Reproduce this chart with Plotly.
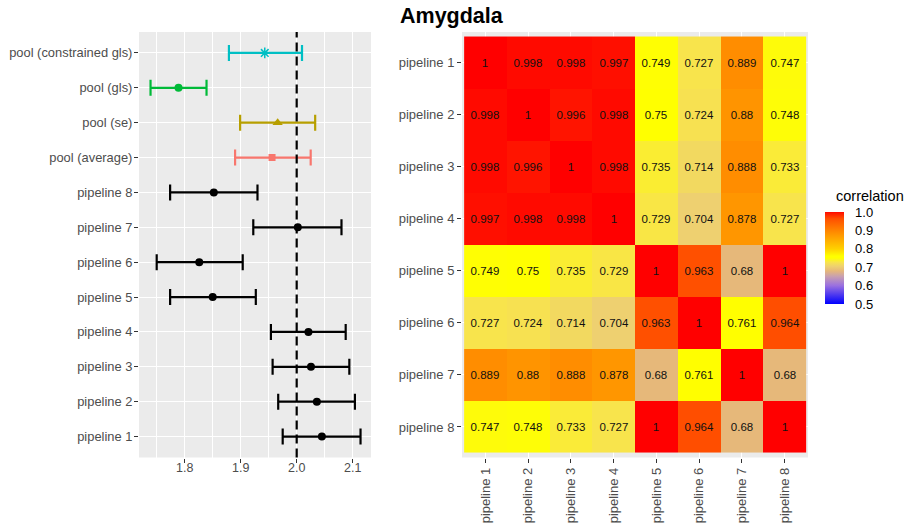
import plotly.graph_objects as go

# ---------------- data ----------------
pipelines = ["pipeline 1", "pipeline 2", "pipeline 3", "pipeline 4",
             "pipeline 5", "pipeline 6", "pipeline 7", "pipeline 8"]
pipe_est = [2.045, 2.036, 2.0255, 2.021, 1.850, 1.826, 2.002, 1.852]
pipe_lo = [1.975, 1.967, 1.957, 1.954, 1.774, 1.750, 1.9225, 1.774]
pipe_hi = [2.114, 2.104, 2.094, 2.0875, 1.927, 1.9036, 2.080, 1.930]

pool_names = ["pool (average)", "pool (se)", "pool (gls)", "pool (constrained gls)"]
pool_est = [1.956, 1.966, 1.789, 1.943]
pool_lo = [1.890, 1.899, 1.739, 1.879]
pool_hi = [2.025, 2.033, 1.839, 2.0095]

reference_value = 2.0
x_ticks = [1.8, 1.9, 2.0, 2.1]

corr = [
    [1, 0.998, 0.998, 0.997, 0.749, 0.727, 0.889, 0.747],
    [0.998, 1, 0.996, 0.998, 0.75, 0.724, 0.88, 0.748],
    [0.998, 0.996, 1, 0.998, 0.735, 0.714, 0.888, 0.733],
    [0.997, 0.998, 0.998, 1, 0.729, 0.704, 0.878, 0.727],
    [0.749, 0.75, 0.735, 0.729, 1, 0.963, 0.68, 1],
    [0.727, 0.724, 0.714, 0.704, 0.963, 1, 0.761, 0.964],
    [0.889, 0.88, 0.888, 0.878, 0.68, 0.761, 1, 0.68],
    [0.747, 0.748, 0.733, 0.727, 1, 0.964, 0.68, 1],
]
cbar_ticks = [0.5, 0.6, 0.7, 0.8, 0.9, 1.0]

# ---------------- styling ----------------
FONT = "Liberation Sans, Arial, Helvetica, sans-serif"
W, H = 907, 525
GREY_TXT = "#4D4D4D"
PANEL = "#EBEBEB"

def px_x(p):
    return p / W

def px_y(p):
    return 1 - p / H

pool_styles = [
    dict(color="#F8766D", symbol="square", size=7),
    dict(color="#B79F00", symbol="triangle-up", size=9),
    dict(color="#00BA38", symbol="circle", size=8),
    dict(color="#00BFC4", symbol="asterisk-open", size=9),
]

y_order = pipelines + pool_names

fig = go.Figure()

# pipelines (black)
fig.add_trace(go.Scatter(
    x=pipe_est, y=pipelines, mode="markers",
    marker=dict(color="black", size=8, symbol="circle"),
    error_x=dict(type="data", symmetric=False,
                 array=[h - e for h, e in zip(pipe_hi, pipe_est)],
                 arrayminus=[e - l for e, l in zip(pipe_est, pipe_lo)],
                 color="black", thickness=2.2, width=8),
    xaxis="x", yaxis="y", showlegend=False, hoverinfo="x+y"))

for name, e, l, h, st in zip(pool_names, pool_est, pool_lo, pool_hi, pool_styles):
    mk = dict(color=st["color"], size=st["size"], symbol=st["symbol"])
    if st["symbol"] == "asterisk-open":
        mk["line"] = dict(color=st["color"], width=1.5)
    fig.add_trace(go.Scatter(
        x=[e], y=[name], mode="markers", marker=mk,
        error_x=dict(type="data", symmetric=False, array=[h - e], arrayminus=[e - l],
                     color=st["color"], thickness=2.2, width=8),
        xaxis="x", yaxis="y", showlegend=False, hoverinfo="x+y"))

# heatmap
def fmt(v):
    return f"{v:.3f}".rstrip("0").rstrip(".")

text = [[fmt(v) for v in row] for row in corr]

cscale = [
    [0.0, "#0000FF"],
    [0.2, "#9A70E0"],
    [0.3, "#C8A0B0"],
    [0.36, "#E6B87A"],
    [0.408, "#EED070"],
    [0.454, "#F8E44C"],
    [0.5, "#FFFF00"],
    [0.52, "#FFFF00"],
    [0.6, "#FFD000"],
    [0.76, "#FF9400"],
    [0.926, "#FF5000"],
    [0.992, "#FF1400"],
    [1.0, "#FF0000"],
]

fig.add_trace(go.Heatmap(
    z=corr, x=pipelines, y=pipelines, text=text, texttemplate="%{text}",
    textfont=dict(family=FONT, size=11.5, color="#111111"),
    colorscale=cscale, zmin=0.5, zmax=1.0,
    xaxis="x2", yaxis="y2",
    colorbar=dict(
        lenmode="pixels", len=92, thickness=19, thicknessmode="pixels",
        x=px_x(825), xanchor="left", y=px_y(258), yanchor="middle",
        xpad=0, ypad=0, outlinewidth=0,
        tickvals=cbar_ticks, ticktext=[f"{t:.1f}" for t in cbar_ticks],
        ticks="outside", ticklen=9, tickcolor="white", tickwidth=1,
        tickfont=dict(family=FONT, size=13, color="black"),
    ),
    hoverinfo="x+y+z"))

# dashed reference line
fig.add_shape(type="line", xref="x", yref="paper",
              x0=reference_value, x1=reference_value,
              y0=px_y(457.5), y1=px_y(32),
              line=dict(color="black", width=2.2, dash="9px,5px"))

left_dom_y = [px_y(457.5), px_y(32)]

fig.update_layout(
    width=W, height=H,
    margin=dict(l=0, r=0, t=0, b=0),
    paper_bgcolor="white", plot_bgcolor=PANEL,
    font=dict(family=FONT, color=GREY_TXT),
    xaxis=dict(domain=[px_x(139), px_x(371)], range=[1.7184, 2.1327],
               tickvals=x_ticks, ticktext=[f"{t:.1f}" for t in x_ticks],
               showgrid=True, gridcolor="white", gridwidth=1.3,
               minor=dict(dtick=0.05, tick0=1.75, showgrid=True, gridcolor="white", gridwidth=0.6),
               ticks="outside", ticklen=4, tickcolor="#333333", tickwidth=1,
               ticklabelstandoff=-6,
               tickfont=dict(size=12.5, color=GREY_TXT),
               zeroline=False, showline=False, anchor="y"),
    yaxis=dict(domain=left_dom_y, type="category", categoryorder="array",
               categoryarray=y_order, range=[-0.6, 11.6],
               showgrid=True, gridcolor="white", gridwidth=1.3,
               ticks="outside", ticklen=4, tickcolor="#333333", tickwidth=1,
               ticklabelstandoff=-1,
               tickfont=dict(size=12.9, color=GREY_TXT),
               zeroline=False, showline=False, anchor="x"),
    xaxis2=dict(domain=[px_x(462), px_x(808)], type="category",
                categoryorder="array", categoryarray=pipelines,
                range=[-0.55, 7.55], showgrid=True, gridcolor="white", gridwidth=1.3,
                ticks="outside", ticklen=4, tickcolor="#333333", tickwidth=1,
                tickangle=-90, tickfont=dict(size=13, color=GREY_TXT),
                zeroline=False, showline=False, anchor="y2"),
    yaxis2=dict(domain=left_dom_y, type="category", categoryorder="array",
                categoryarray=pipelines, range=[7.587, -0.587],
                showgrid=True, gridcolor="white", gridwidth=1.3,
                ticks="outside", ticklen=4, tickcolor="#333333", tickwidth=1,
                tickfont=dict(size=13, color=GREY_TXT),
                zeroline=False, showline=False, anchor="x2"),
    annotations=[
        dict(text="<b>Amygdala</b>", x=px_x(398), y=px_y(16), xref="paper", yref="paper",
             xanchor="left", yanchor="middle", showarrow=False,
             font=dict(family=FONT, size=21.5, color="black")),
        dict(text="correlation", x=px_x(834), y=px_y(196), xref="paper", yref="paper",
             xanchor="left", yanchor="middle", showarrow=False,
             font=dict(family=FONT, size=14.5, color="black")),
    ],
)

fig.write_html("out.html", config={"displayModeBar": False},
               post_script="document.body.style.margin='0';document.body.style.padding='0';")
